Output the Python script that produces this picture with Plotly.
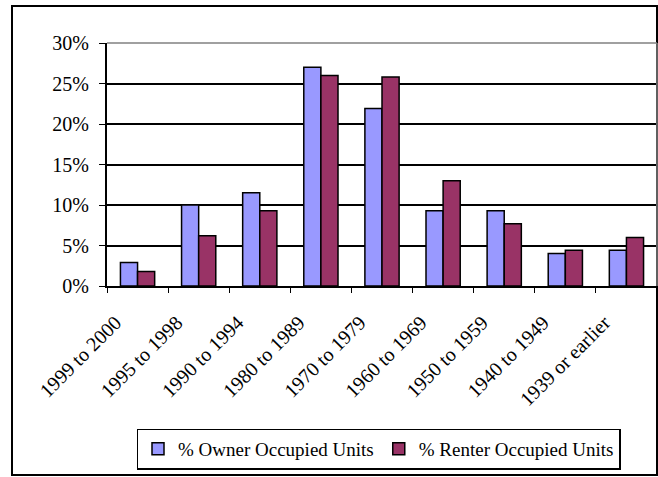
import plotly.graph_objects as go

categories = ["1999 to 2000", "1995 to 1998", "1990 to 1994", "1980 to 1989", "1970 to 1979",
              "1960 to 1969", "1950 to 1959", "1940 to 1949", "1939 or earlier"]
owner = [2.9, 10.0, 11.5, 27.0, 21.9, 9.3, 9.3, 4.0, 4.4]
renter = [1.8, 6.2, 9.3, 26.0, 25.8, 13.0, 7.7, 4.4, 6.0]
y_ticks = [0, 5, 10, 15, 20, 25, 30]
y_tick_labels = ["0%", "5%", "10%", "15%", "20%", "25%", "30%"]

W, H = 658, 477
L, R, T, B = 107, 1, 43, 191
pw, ph = W - L - R, H - T - B

fig = go.Figure()
fig.add_trace(go.Bar(name="% Owner Occupied Units", x=categories, y=owner,
                     marker=dict(color="#9999FF", line=dict(color="black", width=1.5))))
fig.add_trace(go.Bar(name="% Renter Occupied Units", x=categories, y=renter,
                     marker=dict(color="#993366", line=dict(color="black", width=1.5))))

font = dict(family="Liberation Serif, Times New Roman, serif", size=20, color="black")
legend_font = dict(family="Liberation Serif, Times New Roman, serif", size=19, color="black")

def px_x(p):
    return (p - L) / pw

def px_y(p):
    return (H - B - p) / ph

fig.update_layout(
    width=W, height=H,
    margin=dict(l=L, r=R, t=T, b=B),
    paper_bgcolor="white", plot_bgcolor="white",
    font=font,
    barmode="group", bargap=0.44, bargroupgap=0,
    xaxis=dict(showgrid=False, showline=True, linecolor="black", linewidth=2,
               ticks="outside", tickson="boundaries", ticklen=5, tickcolor="black",
               tickangle=-45, tickfont=font, ticklabelshift=-22, ticklabelstandoff=15),
    yaxis=dict(range=[0, 30], tickvals=y_ticks, ticktext=y_tick_labels,
               showgrid=True, gridcolor="black", gridwidth=1.5,
               showline=True, linecolor="black", linewidth=2,
               ticks="outside", ticklen=6, tickcolor="black", tickfont=font,
               ticklabelstandoff=6, zeroline=False),
    legend=dict(orientation="h", x=px_x(378.5), xanchor="center", y=px_y(449), yanchor="middle",
                bordercolor="black", borderwidth=1.5, font=legend_font, bgcolor="white",
                itemwidth=30, traceorder="normal"),
    showlegend=True,
    shapes=[
        dict(type="rect", xref="paper", yref="paper",
             x0=px_x(12), x1=px_x(657), y0=px_y(475), y1=px_y(6),
             line=dict(color="black", width=2), fillcolor="rgba(0,0,0,0)", layer="below"),
        dict(type="line", xref="paper", yref="paper", x0=0, x1=1, y0=1, y1=1,
             line=dict(color="#808080", width=1.5)),
        dict(type="line", xref="paper", yref="paper", x0=1, x1=1, y0=0, y1=1,
             line=dict(color="#808080", width=1.5)),
    ],
)

fig.write_html("out.html", config={"displayModeBar": False},
               post_script="document.body.style.margin='0';document.body.style.overflow='hidden';")
